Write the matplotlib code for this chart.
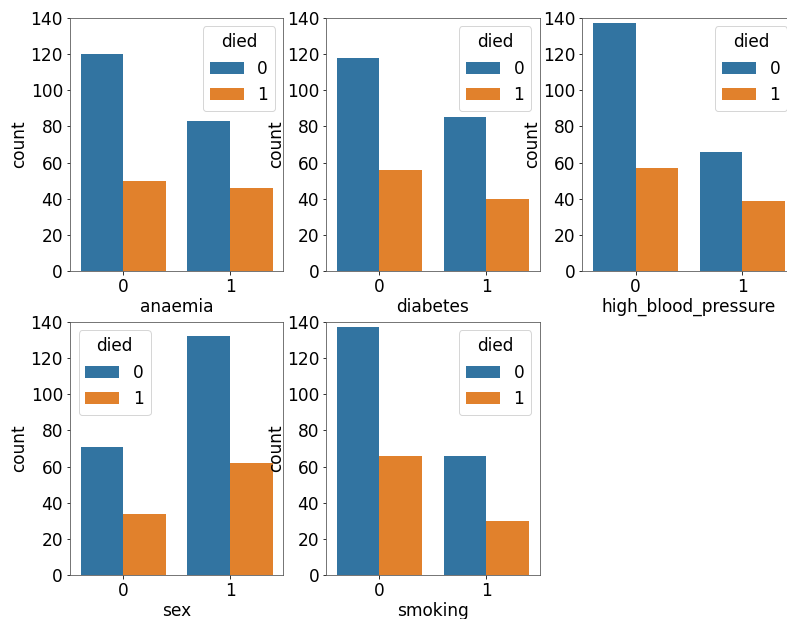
import numpy as np
import pandas as pd
import matplotlib
matplotlib.use("Agg")
import matplotlib.pyplot as plt
import seaborn as sns

# counts per feature value (0 / 1) split by outcome
features = ["anaemia", "diabetes", "high_blood_pressure", "sex", "smoking"]
levels = ["0", "1"]
survived = {
    "anaemia": [120, 83],
    "diabetes": [118, 85],
    "high_blood_pressure": [137, 66],
    "sex": [71, 132],
    "smoking": [137, 66],
}
died = {
    "anaemia": [50, 46],
    "diabetes": [56, 40],
    "high_blood_pressure": [57, 39],
    "sex": [34, 62],
    "smoking": [66, 30],
}
legend_loc = ["upper right", "upper right", "upper right", "upper left", "upper right"]

plt.rcParams["font.size"] = 17

fig, axes = plt.subplots(2, 3, figsize=(787 / 72, 619 / 72), dpi=72)
fig.subplots_adjust(left=0.089, right=1.011, top=0.971, bottom=0.071,
                    wspace=0.2, hspace=0.2)

for ax, feat, loc in zip(axes.flat, features, legend_loc):
    df = pd.DataFrame({
        feat: levels * 2,
        "count": survived[feat] + died[feat],
        "died": ["0", "0", "1", "1"],
    })
    sns.barplot(data=df, x=feat, y="count", hue="died", hue_order=["0", "1"],
                order=levels, ax=ax, errorbar=None)
    ax.set_ylim(0, 140)
    ax.set_xlabel(feat, fontsize=17, labelpad=2)
    ax.set_ylabel("count", fontsize=17, labelpad=2)
    ax.legend(title="died", loc=loc, fontsize=17, title_fontsize=17)
    for s in ax.spines.values():
        s.set_color("#555555")

axes.flat[-1].remove()

fig.savefig("out.png", dpi=72)
